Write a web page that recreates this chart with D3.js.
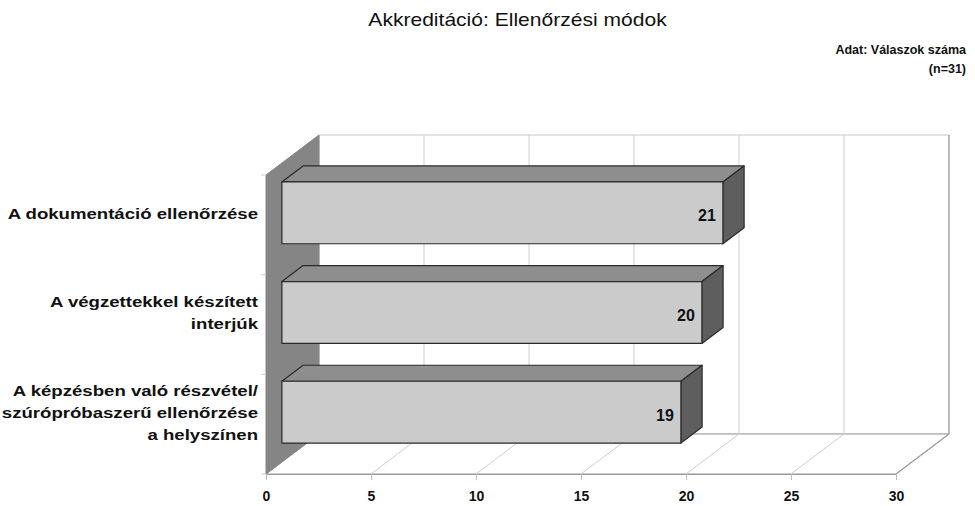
<!DOCTYPE html>
<html>
<head>
<meta charset="utf-8">
<script src="https://cdn.jsdelivr.net/npm/d3@7"></script>
<style>
  html, body { margin: 0; padding: 0; background: #fff; }
  svg { display: block; font-family: "Liberation Sans", Arial, sans-serif; }
</style>
</head>
<body>
<svg id="chart" width="975" height="506"></svg>
<script>
// Data
const categories = [
  ["A dokumentáció ellenőrzése"],
  ["A végzettekkel készített", "interjúk"],
  ["A képzésben való részvétel/", "szúrópróbaszerű ellenőrzése", "a helyszínen"]
];
const values = [21, 20, 19];
const tickValues = [0, 5, 10, 15, 20, 25, 30];
const titleText = "Akkreditáció: Ellenőrzési módok";
const noteLines = ["Adat: Válaszok száma", "(n=31)"];

const svg = d3.select("#chart");

// Front plane scales and depth offset of the 3D box
const x = d3.scaleLinear().domain([0, 30]).range([266, 896]);
const y = d3.scaleBand().domain(d3.range(categories.length))
  .range([175, 474]).paddingInner(0.38).paddingOuter(0.19);
const DX = 53, DY = -40;          // full depth of the chart box
const yTop = 175, yBot = 474;     // front plane vertical extent
const barFront = 0.3, barBack = 0.7;

const P = (px, py, d) => [px + d * DX, py + d * DY];
const poly = pts => "M" + pts.map(p => p.join(",")).join("L") + "Z";

// Back wall
svg.append("path")
  .attr("d", poly([P(x(0), yTop, 1), P(x(30), yTop, 1), P(x(30), yBot, 1), P(x(0), yBot, 1)]))
  .attr("fill", "#fff").attr("stroke", "#c8c8c8").attr("stroke-width", 1);

// Floor
svg.append("path")
  .attr("d", poly([P(x(0), yBot, 0), P(x(30), yBot, 0), P(x(30), yBot, 1), P(x(0), yBot, 1)]))
  .attr("fill", "#fff").attr("stroke", "#9a9a9a").attr("stroke-width", 1);

// Gridlines: vertical on back wall, diagonal across floor
const grid = svg.append("g").attr("stroke", "#cfcfcf").attr("stroke-width", 1).attr("fill", "none");
tickValues.slice(1, -1).forEach(v => {
  const a = P(x(v), yTop, 1), b = P(x(v), yBot, 1), c = P(x(v), yBot, 0);
  grid.append("path").attr("d", `M${a}L${b}L${c}`);
});
// Right edge of back wall / floor
svg.append("path")
  .attr("d", `M${P(x(30), yTop, 1)}L${P(x(30), yBot, 1)}L${P(x(30), yBot, 0)}`)
  .attr("fill", "none").attr("stroke", "#a0a0a0").attr("stroke-width", 1.2);

// Left wall (gray)
svg.append("path")
  .attr("d", poly([P(x(0), yTop, 0), P(x(0), yTop, 1), P(x(0), yBot, 1), P(x(0), yBot, 0)]))
  .attr("fill", "#858585").attr("stroke", "#858585");

// Small category ticks left of the wall
const ctk = svg.append("g").attr("stroke", "#d0d0d0");
[yTop, yTop + y.step(), yTop + 2 * y.step(), yBot].forEach(v => {
  ctk.append("line").attr("x1", x(0) - 5).attr("x2", x(0)).attr("y1", v).attr("y2", v);
});

// Bottom axis
const axis = d3.axisBottom(x).tickValues(tickValues).tickSize(6).tickPadding(11);
const ag = svg.append("g").attr("transform", `translate(0,${yBot})`).call(axis);
ag.select(".domain").attr("stroke", "#9a9a9a");
ag.selectAll(".tick line").attr("stroke", "#bdbdbd");
ag.selectAll(".tick text").attr("fill", "#111").attr("font-size", 14).attr("font-weight", "bold")
  .attr("font-family", "Liberation Sans, Arial, sans-serif");

// 3D bars
const bars = svg.append("g");
values.forEach((v, i) => {
  const t = y(i), b = y(i) + y.bandwidth();
  const g = bars.append("g");
  // top face
  g.append("path")
    .attr("d", poly([P(x(0), t, barFront), P(x(v), t, barFront), P(x(v), t, barBack), P(x(0), t, barBack)]))
    .attr("fill", "#8e8e8e").attr("stroke", "#2a2a2a").attr("stroke-width", 1.2).attr("stroke-linejoin", "round");
  // side face
  g.append("path")
    .attr("d", poly([P(x(v), t, barFront), P(x(v), t, barBack), P(x(v), b, barBack), P(x(v), b, barFront)]))
    .attr("fill", "#5e5e5e").attr("stroke", "#2a2a2a").attr("stroke-width", 1.2).attr("stroke-linejoin", "round");
  // front face
  g.append("path")
    .attr("d", poly([P(x(0), t, barFront), P(x(v), t, barFront), P(x(v), b, barFront), P(x(0), b, barFront)]))
    .attr("fill", "#cbcbcb").attr("stroke", "#2a2a2a").attr("stroke-width", 1.2).attr("stroke-linejoin", "round");
  // value label
  const end = P(x(v), (t + b) / 2, barFront);
  g.append("text")
    .attr("x", end[0] - 7).attr("y", end[1] + 8.5)
    .attr("text-anchor", "end").attr("font-size", 16).attr("font-weight", "bold").attr("fill", "#111")
    .text(v);
});

// Category labels (slightly widened lettering)
const lblX = 258;
const lbl = svg.append("g").attr("font-size", 15.5).attr("font-weight", "bold").attr("fill", "#111")
  .attr("text-anchor", "end");
categories.forEach((lines, i) => {
  const cy = y(i) + y.bandwidth() / 2 + barFront * DY;
  const lh = 22;
  const t = lbl.append("text").attr("transform", `translate(${lblX},0) scale(1.2,1)`);
  lines.forEach((ln, k) => {
    t.append("tspan").attr("x", 0)
      .attr("y", cy + (k - (lines.length - 1) / 2) * lh + 6)
      .text(ln);
  });
});

// Title and note
svg.append("text").attr("transform", "translate(517.5,25.5) scale(1.17,1)")
  .attr("text-anchor", "middle")
  .attr("font-size", 18).attr("fill", "#111").text(titleText);
const note = svg.append("text").attr("text-anchor", "end").attr("font-size", 12.5)
  .attr("font-weight", "bold").attr("fill", "#111");
noteLines.forEach((ln, k) => {
  note.append("tspan").attr("x", 966).attr("y", 54 + k * 18.5).text(ln);
});
</script>
</body>
</html>
